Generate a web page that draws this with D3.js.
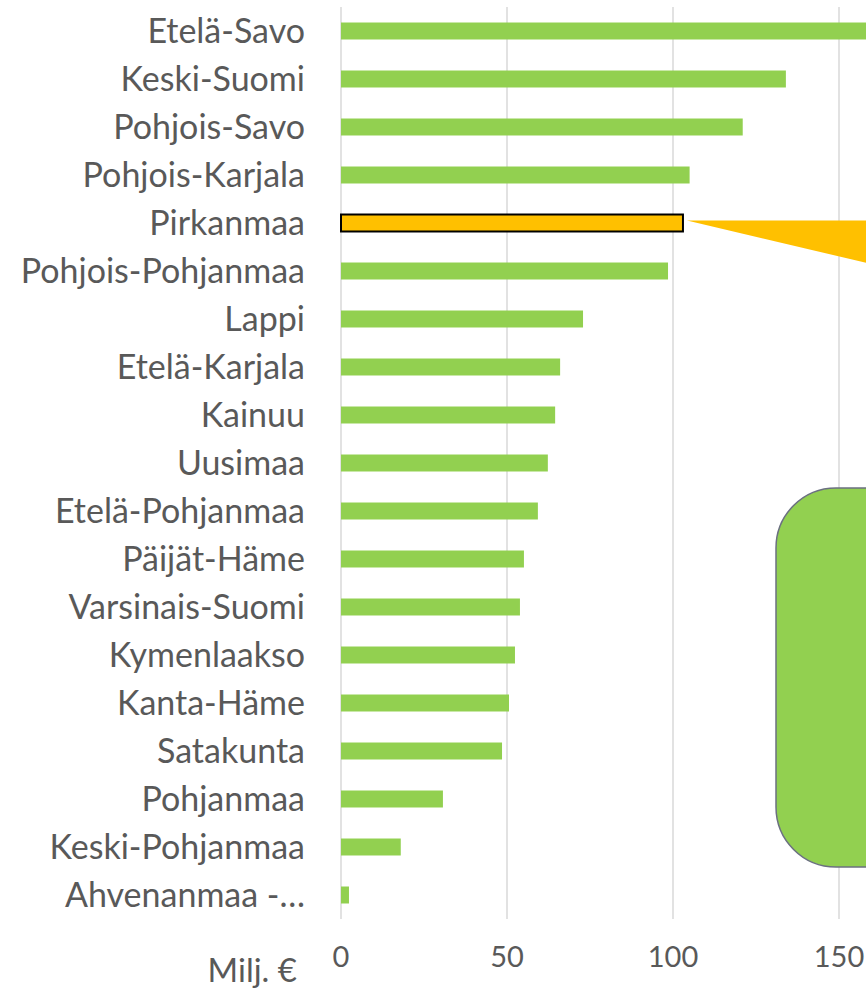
<!DOCTYPE html>
<html>
<head>
<meta charset="utf-8">
<script src="https://cdn.jsdelivr.net/npm/d3@7"></script>
<style>
  body { margin: 0; background: #fff; overflow: hidden; }
  svg { display: block; font-family: Lato, "Open Sans", sans-serif; }
</style>
</head>
<body>
<div id="chart-area"></div>
<script>
// Data
var regions = ['Etelä-Savo', 'Keski-Suomi', 'Pohjois-Savo', 'Pohjois-Karjala', 'Pirkanmaa',
  'Pohjois-Pohjanmaa', 'Lappi', 'Etelä-Karjala', 'Kainuu', 'Uusimaa', 'Etelä-Pohjanmaa',
  'Päijät-Häme', 'Varsinais-Suomi', 'Kymenlaakso', 'Kanta-Häme', 'Satakunta', 'Pohjanmaa',
  'Keski-Pohjanmaa', 'Ahvenanmaa -…'];
var values = [168, 134, 121, 105, 103, 98.5, 72.9, 66, 64.5, 62.3, 59.3, 55.1, 53.9, 52.4,
  50.6, 48.5, 30.7, 18, 2.4];
var ticks = [0, 50, 100, 150];
var highlight = 'Pirkanmaa';
var unitLabel = 'Milj. €';

var width = 866, height = 988;

var svg = d3.select('#chart-area').append('svg')
  .attr('width', width)
  .attr('height', height);

// Scales
var x = d3.scaleLinear().domain([0, 150]).range([341, 839]);
var y = d3.scaleBand().domain(regions).range([7, 919])
  .paddingInner(0.646).paddingOuter(0.323);

// Gridlines
svg.append('g').selectAll('line')
  .data(ticks)
  .enter().append('line')
  .attr('x1', d => x(d)).attr('x2', d => x(d))
  .attr('y1', 7).attr('y2', 919)
  .attr('stroke', '#d9d9d9')
  .attr('stroke-width', 1.5);

// Bars
var data = regions.map((r, i) => ({ name: r, value: values[i] }));

svg.append('g').selectAll('rect')
  .data(data)
  .enter().append('rect')
  .attr('x', x(0))
  .attr('y', d => y(d.name))
  .attr('width', d => x(d.value) - x(0))
  .attr('height', y.bandwidth())
  .attr('fill', d => d.name === highlight ? '#ffc000' : '#92d050')
  .attr('stroke', d => d.name === highlight ? '#000' : 'none')
  .attr('stroke-width', 2);

// Category labels
svg.append('g').selectAll('text')
  .data(regions)
  .enter().append('text')
  .attr('x', 305)
  .attr('y', d => y(d) + y.bandwidth() / 2)
  .attr('dy', '0.34em')
  .attr('text-anchor', 'end')
  .style('font-size', '34px')
  .attr('fill', '#595959')
  .text(d => d);

// Tick labels
svg.append('g').selectAll('text')
  .data(ticks)
  .enter().append('text')
  .attr('x', d => x(d))
  .attr('y', 967)
  .attr('text-anchor', 'middle')
  .style('font-size', '29px')
  .attr('fill', '#595959')
  .text(d => d);

svg.append('text')
  .attr('x', 297)
  .attr('y', 982)
  .attr('text-anchor', 'end')
  .style('font-size', '33px')
  .attr('fill', '#595959')
  .text(unitLabel);

// Callout pointer from highlighted bar
var hv = values[regions.indexOf(highlight)];
var tipX = x(hv) + 4, tipY = y(highlight) + 6;
svg.append('path')
  .attr('d', `M${tipX},${tipY} L${width + 20},${tipY} L${width + 20},${tipY + 47} Z`)
  .attr('fill', '#ffc000');

// Rounded text box (cropped at the right edge)
svg.append('rect')
  .attr('x', 776).attr('y', 488)
  .attr('width', 200).attr('height', 379)
  .attr('rx', 60).attr('ry', 60)
  .attr('fill', '#92d050')
  .attr('stroke', '#6b7080')
  .attr('stroke-width', 1.5);
</script>
</body>
</html>
